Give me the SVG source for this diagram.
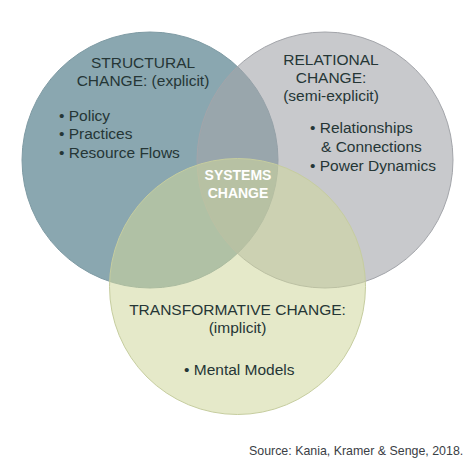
<svg xmlns="http://www.w3.org/2000/svg" width="474" height="474" viewBox="0 0 474 474">
<style>
.t{font-family:"Liberation Sans",Arial,sans-serif;font-size:15.5px;fill:#253636}
.c{text-anchor:middle}
.w{font-family:"Liberation Sans",Arial,sans-serif;font-size:14px;font-weight:bold;fill:#ffffff;text-anchor:middle}
.s{font-family:"Liberation Sans",Arial,sans-serif;font-size:12.4px;fill:#3a4045}
</style>
<rect width="474" height="474" fill="#ffffff"/>
<g id="structural">
<circle cx="150" cy="160" r="128" fill="#8aa7b0" stroke="#7f9ba4" stroke-width="1"/>
<text class="t c" x="143" y="68">STRUCTURAL</text>
<text class="t c" x="143" y="86">CHANGE: (explicit)</text>
<text class="t" x="59" y="121">• Policy</text>
<text class="t" x="59" y="139">• Practices</text>
<text class="t" x="59" y="158">• Resource Flows</text>
</g>
<g id="relational">
<circle cx="325" cy="160" r="128" fill="#a3a5aa" fill-opacity="0.6" stroke="#a3a5aa" stroke-width="1"/>
<text class="t c" x="331" y="65">RELATIONAL</text>
<text class="t c" x="331" y="83">CHANGE:</text>
<text class="t c" x="331" y="101">(semi-explicit)</text>
<text class="t" x="310" y="133">• Relationships</text>
<text class="t" x="321" y="152">&amp; Connections</text>
<text class="t" x="310" y="171">• Power Dynamics</text>
</g>
<g id="transformative">
<circle cx="237.5" cy="286.5" r="128" fill="#d0d79d" fill-opacity="0.55" stroke="#c6cd9f" stroke-width="1"/>
<text class="t c" x="237.5" y="315">TRANSFORMATIVE CHANGE:</text>
<text class="t c" x="237.5" y="333">(implicit)</text>
<text class="t" x="184" y="375">• Mental Models</text>
</g>
<g id="systems-change">
<text class="w" x="238" y="180">SYSTEMS</text>
<text class="w" x="238" y="198">CHANGE</text>
</g>
<g id="connectors"/>
<text class="s" x="249" y="455">Source: Kania, Kramer &amp; Senge, 2018.</text>
</svg>
